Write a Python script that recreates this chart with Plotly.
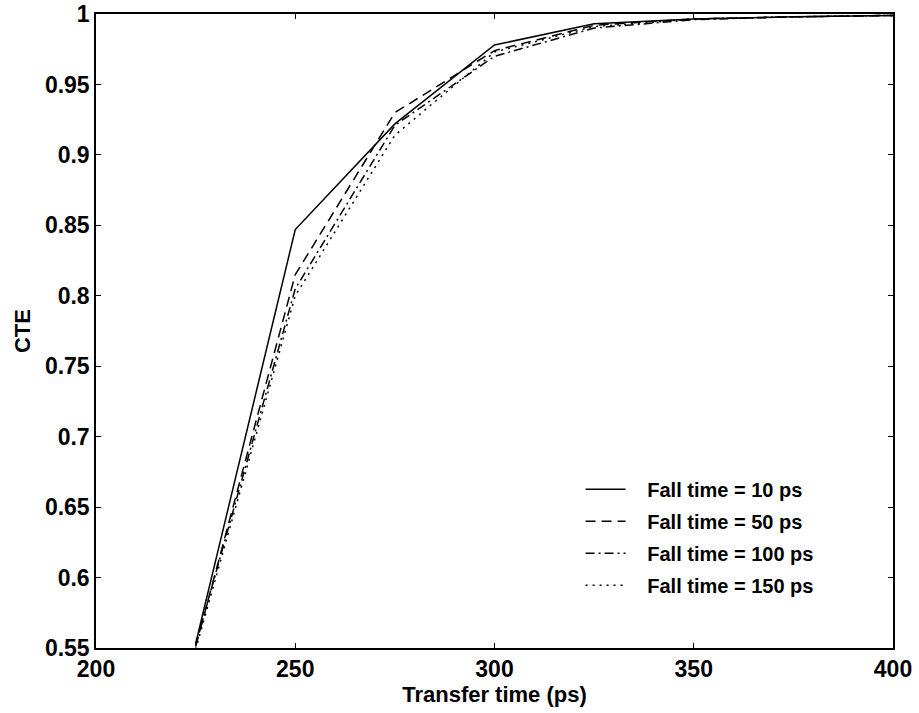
import plotly.graph_objects as go

transfer_time = [225, 250, 275, 300, 325, 350, 375, 400]
cte_10 = [0.553, 0.847, 0.922, 0.978, 0.993, 0.9965, 0.998, 0.999]
cte_50 = [0.551, 0.815, 0.930, 0.974, 0.992, 0.9965, 0.998, 0.999]
cte_100 = [0.552, 0.805, 0.921, 0.970, 0.990, 0.996, 0.998, 0.999]
cte_150 = [0.549, 0.800, 0.914, 0.973, 0.991, 0.9965, 0.998, 0.999]
series_names = ["Fall time = 10 ps", "Fall time = 50 ps", "Fall time = 100 ps", "Fall time = 150 ps"]
x_ticks = [200, 250, 300, 350, 400]
y_ticks = [0.55, 0.6, 0.65, 0.7, 0.75, 0.8, 0.85, 0.9, 0.95, 1.0]
y_tick_labels = ["0.55", "0.6", "0.65", "0.7", "0.75", "0.8", "0.85", "0.9", "0.95", "1"]

dashes = ["solid", "10px,6px", "9px,4px,2px,4px", "2px,5px"]
series = [cte_10, cte_50, cte_100, cte_150]

fig = go.Figure()
for i, (name, ys) in enumerate(zip(series_names, series)):
    fig.add_trace(go.Scatter(
        x=transfer_time, y=ys, mode="lines",
        name="\u00a0\u00a0\u00a0" + name,
        legendgroup=f"g{i}",
        line=dict(color="black", width=1.5, dash=dashes[i]),
    ))

font_family = "Liberation Sans, Arial, sans-serif"
fig.update_layout(
    width=919, height=713,
    margin=dict(l=96, r=26, t=14, b=65),
    paper_bgcolor="white", plot_bgcolor="white",
    font=dict(family=font_family, color="black"),
    showlegend=True,
    legend=dict(
        x=0.608, y=0.281, xanchor="left", yanchor="top",
        bgcolor="rgba(0,0,0,0)", borderwidth=0,
        font=dict(size=20, family=font_family, weight="bold", color="black"),
        tracegroupgap=3, itemwidth=40,
    ),
)
fig.update_xaxes(
    range=[200, 400], tickvals=x_ticks, ticktext=[str(v) for v in x_ticks],
    ticks="inside", ticklen=5, tickcolor="black", tickwidth=1,
    showline=True, linecolor="black", linewidth=1.5, mirror="ticks",
    showgrid=False, zeroline=False, ticklabeloverflow="allow", automargin=False,
    tickfont=dict(size=23, family=font_family, weight="bold"),
    title=dict(text="Transfer time (ps)", font=dict(size=22, family=font_family, weight="bold"), standoff=2),
)
fig.update_yaxes(
    range=[0.55, 1.0], tickvals=y_ticks, ticktext=y_tick_labels,
    ticks="inside", ticklen=5, tickcolor="black", tickwidth=1,
    showline=True, linecolor="black", linewidth=1.5, mirror="ticks",
    showgrid=False, zeroline=False, ticklabeloverflow="allow", automargin=False,
    tickfont=dict(size=23, family=font_family, weight="bold"),
    title=dict(text="CTE", font=dict(size=22, family=font_family, weight="bold"), standoff=8),
)

fig.write_html("out.html")
